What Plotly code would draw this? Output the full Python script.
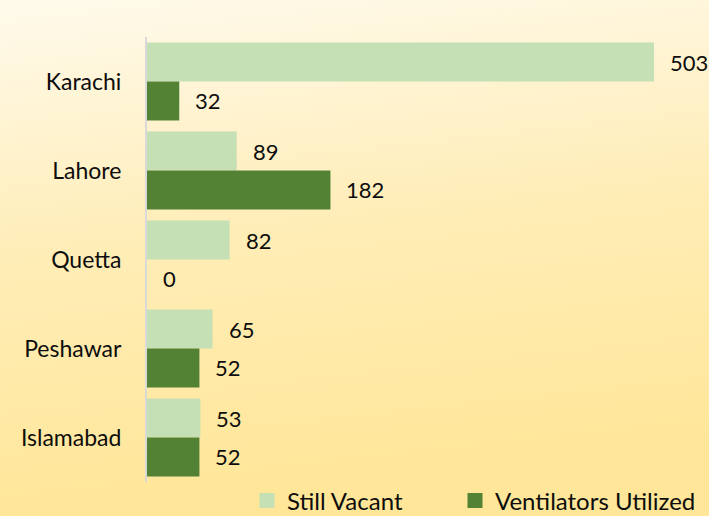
import base64
import plotly.graph_objects as go

# ---- data ----
cities = ["Karachi", "Lahore", "Quetta", "Peshawar", "Islamabad"]
still_vacant = [503, 89, 82, 65, 53]
ventilators_utilized = [32, 182, 0, 52, 52]
series_names = ["Still Vacant", "Ventilators Utilized"]
series_colors = ["#C5E0B4", "#548235"]

# ---- layout constants ----
W, H = 709, 516
ml, mr, mt, mb = 147, 49, 37, 34
pw = W - ml - mr
ph = H - mt - mb
px_per_unit = 1.008
xmax = pw / px_per_unit
font_family = "Lato, 'Noto Sans', sans-serif"
font_size = 23
text_color = "#0d0d0d"
bargap = 0.124
legend_left_px = [247, 455]
legend_center_px = 501

# gradient background as inline svg
svg = (
    f'<svg xmlns="http://www.w3.org/2000/svg" width="{W}" height="{H}" preserveAspectRatio="none">'
    '<defs><linearGradient id="g" x1="0" y1="0" x2="0.15" y2="1">'
    '<stop offset="0" stop-color="#FFFAEC"/>'
    '<stop offset="0.5" stop-color="#FFEDB6"/>'
    '<stop offset="1" stop-color="#FFE698"/>'
    '</linearGradient></defs>'
    f'<rect width="{W}" height="{H}" fill="url(#g)"/></svg>'
)
bg_src = "data:image/svg+xml;base64," + base64.b64encode(svg.encode()).decode()

fig = go.Figure()
legend_ids = ["legend", "legend2"]
for name, vals, col, lg in zip(series_names, [still_vacant, ventilators_utilized], series_colors, legend_ids):
    fig.add_trace(go.Bar(
        y=cities, x=vals, name=name, orientation="h",
        marker=dict(color=col, line=dict(width=0)),
        showlegend=False, hoverinfo="x+y",
    ))
    # legend proxy with larger square marker
    fig.add_trace(go.Scatter(
        x=[None], y=[None], mode="markers", name=name,
        marker=dict(symbol="square", size=15, color=col),
        showlegend=True, legend=lg,
    ))

# value labels
band_px = ph / len(cities)
bar_px = band_px * (1 - bargap) / 2
annotations = []
for k, vals in enumerate([still_vacant, ventilators_utilized]):
    shift = bar_px / 2 if k == 0 else -bar_px / 2
    for c, v in zip(cities, vals):
        annotations.append(dict(
            x=v, y=c, xref="x", yref="y", text=str(v), showarrow=False,
            xanchor="left", yanchor="middle", xshift=14, yshift=shift,
            font=dict(family=font_family, size=font_size - 1, color=text_color),
        ))

legend_common = dict(
    orientation="h", xanchor="left",
    yref="paper", y=-(legend_center_px - (mt + ph)) / ph, yanchor="middle",
    bgcolor="rgba(0,0,0,0)",
    font=dict(family=font_family, size=24, color=text_color),
)

fig.update_layout(
    width=W, height=H,
    margin=dict(l=ml, r=mr, t=mt, b=mb, pad=0, autoexpand=False),
    barmode="group", bargap=bargap, bargroupgap=0,
    paper_bgcolor="#FFEDB6", plot_bgcolor="rgba(0,0,0,0)",
    font=dict(family=font_family, size=font_size, color=text_color),
    xaxis=dict(range=[0, xmax], visible=False, showgrid=False, zeroline=False),
    yaxis=dict(
        autorange="reversed", showgrid=False, zeroline=False,
        showline=True, linecolor="#D9D9D9", linewidth=2,
        ticks="", ticklabelstandoff=19,
        tickfont=dict(family=font_family, size=font_size, color=text_color),
    ),
    legend=dict(x=(legend_left_px[0] - ml) / pw, **legend_common),
    legend2=dict(x=(legend_left_px[1] - ml) / pw, **legend_common),
    annotations=annotations,
    images=[dict(
        source=bg_src, xref="paper", yref="paper",
        x=-ml / pw, y=1 + mt / ph, sizex=W / pw, sizey=H / ph,
        xanchor="left", yanchor="top", sizing="stretch", layer="below",
    )],
    showlegend=True,
)

fig.write_html(
    "out.html",
    config={"displayModeBar": False},
    post_script="document.body.style.margin='0';document.body.style.padding='0';",
)
